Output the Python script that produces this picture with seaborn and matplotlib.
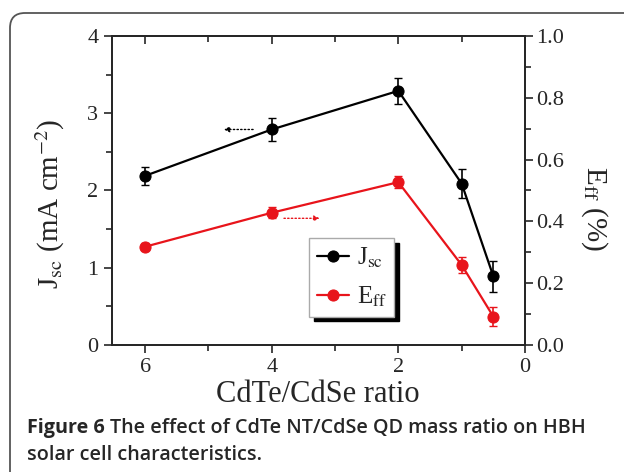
import numpy as np
import pandas as pd
import seaborn as sns
import matplotlib
matplotlib.use("Agg")
from matplotlib import pyplot as plt
from matplotlib.patches import FancyBboxPatch
from matplotlib.ticker import MultipleLocator

# data
ratio = [6, 4, 2, 1, 0.5]
jsc = [2.19, 2.79, 3.29, 2.09, 0.89]
jsc_err = [0.12, 0.15, 0.17, 0.19, 0.20]
eff = [0.318, 0.428, 0.527, 0.259, 0.092]
eff_err = [0.012, 0.017, 0.02, 0.025, 0.03]

df = pd.DataFrame({"ratio": ratio, "jsc": jsc, "eff": eff})

sns.set_style("ticks")
plt.rcParams['font.family'] = ['Liberation Serif', 'DejaVu Serif']
plt.rcParams['mathtext.fontset'] = 'stix'

fig = plt.figure(figsize=(6.24, 4.72), dpi=100)
ax1 = fig.add_axes([0.1787, 0.2691, 0.6626, 0.6546])
ax2 = ax1.twinx()

red = "#e8141b"

# Jsc on left axis
sns.lineplot(data=df, x="ratio", y="jsc", ax=ax1, color="black", lw=1.6,
             marker="o", markersize=8, markeredgecolor="black", label=r"J$_{\rm sc}$",
             legend=False)
ax1.errorbar(ratio, jsc, yerr=jsc_err, fmt="none", ecolor="black", elinewidth=1.2, capsize=3)

# Eff on right axis
sns.lineplot(data=df, x="ratio", y="eff", ax=ax2, color=red, lw=1.6,
             marker="o", markersize=8, markeredgecolor=red, label=r"E$_{\rm ff}$",
             legend=False)
ax2.errorbar(ratio, eff, yerr=eff_err, fmt="none", ecolor=red, elinewidth=1.2, capsize=3)

ax1.set_xlim(6.53, 0)
ax1.set_ylim(0, 4)

ax1.xaxis.set_major_locator(MultipleLocator(2))
ax1.xaxis.set_minor_locator(MultipleLocator(1))
ax1.yaxis.set_major_locator(MultipleLocator(1))
ax1.yaxis.set_minor_locator(MultipleLocator(0.5))
eff_ticks = [0.0, 0.2, 0.4, 0.6, 0.8, 1.0]
ax2.set_yticks(eff_ticks)
ax2.set_yticklabels([f"{v:.1f}" for v in eff_ticks])
ax2.yaxis.set_minor_locator(MultipleLocator(0.1))
ax2.set_ylim(0, 1.0)

ax1.tick_params(axis="both", which="both", direction="out", labelsize=16, width=1.2)
ax1.tick_params(axis="both", which="major", length=6)
ax1.tick_params(axis="both", which="minor", length=4)
ax2.tick_params(axis="y", which="both", direction="out", width=1.2, labelsize=16, pad=2)
ax2.tick_params(axis="y", which="major", length=6)
ax2.tick_params(axis="y", which="minor", length=4)

# mirrored ticks on top, pointing in
top = ax1.secondary_xaxis("top")
top.xaxis.set_major_locator(MultipleLocator(2))
top.xaxis.set_minor_locator(MultipleLocator(1))
top.tick_params(which="both", direction="in", labeltop=False, width=1.2)
top.tick_params(which="major", length=6)
top.tick_params(which="minor", length=4)

for a in (ax1, ax2, top):
    for sp in a.spines.values():
        sp.set_linewidth(1.3)

ax1.set_xlabel("CdTe/CdSe ratio", fontsize=22, labelpad=2)
ax1.set_ylabel(r"J$_{\rm sc}$ (mA cm$^{-2}$)", fontsize=21, va="center")
ax1.yaxis.set_label_coords(-0.147, 0.456)
ax2.set_ylabel(r"E$_{\rm ff}$ (%)", fontsize=21, rotation=270, va="center")
ax2.yaxis.set_label_coords(1.167, 0.443)

# dotted arrows pointing to each series' axis
ax1.annotate("", xy=(4.8, jsc[1]), xytext=(4.25, jsc[1]),
             arrowprops=dict(arrowstyle="-|>", color="black", ls=":", lw=1.0,
                             mutation_scale=8))
ax2.annotate("", xy=(3.2, eff[1] - 0.018), xytext=(3.85, eff[1] - 0.018),
             arrowprops=dict(arrowstyle="-|>", color=red, ls=":", lw=1.0,
                             mutation_scale=8))

h1, l1 = ax1.get_legend_handles_labels()
h2, l2 = ax2.get_legend_handles_labels()
leg = ax2.legend(h1 + h2, l1 + l2, loc="lower left", bbox_to_anchor=(0.478, 0.092),
                 borderaxespad=0, fontsize=18, frameon=True, fancybox=False,
                 edgecolor="#aaaaaa",
                 shadow={"color": "black", "alpha": 1.0, "ox": 3.5, "oy": -3.5},
                 handlelength=1.3, handletextpad=0.3, borderpad=0.3, labelspacing=0.6)
leg.get_frame().set_linewidth(1.0)

# caption and rounded frame
frame = FancyBboxPatch((0.1, -0.3), 6.6, 4.89, boxstyle="round,pad=0,rounding_size=0.15",
                       transform=fig.dpi_scale_trans, fill=False, edgecolor="#555555",
                       lw=1.3, clip_on=False)
fig.patches.append(frame)

cap_font = ['Open Sans', 'DejaVu Sans']
cap_y1 = 1 - 428 / 472
cap_y2 = 1 - 455 / 472
t1 = fig.text(27 / 624, cap_y1, "Figure 6", fontsize=14.2, fontweight="bold",
              family=cap_font, va="center")
fig.canvas.draw()
bb = t1.get_window_extent()
fig.text(bb.x1 / 624 + 0.008, cap_y1, "The effect of CdTe NT/CdSe QD mass ratio on HBH",
         fontsize=14.2, fontweight="semibold", family=cap_font, va="center")
fig.text(27 / 624, cap_y2, "solar cell characteristics.", fontsize=14.2,
         fontweight="semibold", family=cap_font, va="center")

fig.savefig("out.png", dpi=100)
